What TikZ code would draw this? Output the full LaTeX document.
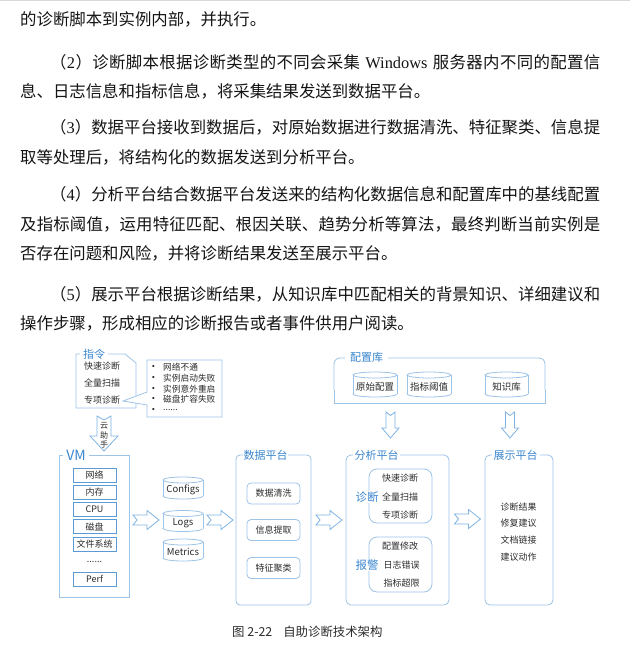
\documentclass[tikz,border=0pt]{standalone}
\usepackage{fontspec}
\setmainfont{Liberation Serif}
\newfontfamily\cjk{Noto Sans CJK SC}
\usetikzlibrary{calc}
\definecolor{bordc}{HTML}{9DC3E6}
\definecolor{ttlc}{HTML}{3A86CF}
\definecolor{inbc}{HTML}{5B9BD5}
\definecolor{txtc}{HTML}{2B2B2B}
\definecolor{arrc}{HTML}{7FB3E3}
\ExplSyntaxOn
\NewDocumentCommand\spreadcj{m}{\tl_map_inline:nn{#1}{##1\hfil}\unskip}
\ExplSyntaxOff
\newcommand\jline[2]{\makebox[#1][s]{\spreadcj{#2}}}
\newcommand\sixdots{......}
\tikzset{
 para/.style={anchor=base west, inner sep=0pt, font=\cjk\fontsize{16.4}{20}\selectfont, text=black!92},
 bline/.style={draw=bordc, line width=0.8pt},
 ttl/.style={font=\cjk\fontsize{11}{12}\selectfont, text=ttlc, inner sep=1pt},
 itm/.style={font=\cjk\fontsize{9}{10}\selectfont, text=txtc, inner sep=0pt},
 smitm/.style={font=\cjk\fontsize{8.7}{10}\selectfont, text=txtc, inner sep=0pt, anchor=west},
 bul/.style={font=\rmfamily\fontsize{9}{10}\selectfont, text=txtc, inner sep=0pt},
 vbox/.style={draw=inbc, line width=0.8pt, minimum width=43pt, minimum height=14pt, inner sep=0pt, font=\cjk\fontsize{9}{10}\selectfont, text=txtc},
 dbox/.style={draw=bordc, line width=0.8pt, rounded corners=4pt, minimum width=53pt, minimum height=21pt, inner sep=0pt, font=\cjk\fontsize{9}{10}\selectfont, text=txtc},
 barrow/.style={draw=arrc, line width=0.8pt, fill=white, line join=miter},
 cyltext/.style={font=\cjk\fontsize{9.5}{10}\selectfont, text=txtc, inner sep=0pt},
}
\newcommand\rarr[2]{%
 \draw[barrow] (#1-13,#2-5) -- ++(14,0) -- ++(0,-4.5) -- ++(12,9.5) -- ++(-12,9.5) -- ++(0,-4.5) -- ++(-14,0) -- ++(4,-5) -- cycle;}
\newcommand\darr[2]{%
 \draw[barrow] (#1-4.5,#2-13) -- ++(4.5,3.5) -- ++(4.5,-3.5) -- ++(0,16) -- ++(4,0) -- ++(-8.5,10) -- ++(-8.5,-10) -- ++(4,0) -- cycle;}
% name, cx, cy, w, h, text
\newcommand\cyl[6]{%
 \filldraw[fill=white, draw=bordc, line width=0.8pt] (#2,#3+#5/2-3) ellipse [x radius=#4/2, y radius=3];
 \fill[white] (#2-#4/2,#3-#5/2+3) rectangle (#2+#4/2,#3+#5/2-3);
 \draw[bline] (#2-#4/2,#3-#5/2+3) -- (#2-#4/2,#3+#5/2-3) (#2+#4/2,#3-#5/2+3) -- (#2+#4/2,#3+#5/2-3);
 \filldraw[fill=white, draw=bordc, line width=0.8pt] (#2,#3-#5/2+3) ellipse [x radius=#4/2, y radius=3];
 \node[cyltext] (#1) at (#2,#3+2) {#6};}
\begin{document}
\begin{tikzpicture}[x=1pt,y=-1pt]
\useasboundingbox (0,0) rectangle (630,658);
\fill[white] (0,0) rectangle (630,658);
\draw[black!15, line width=1pt] (0,1) -- (630,1);
% ---------- paragraphs ----------
\node[para] (l1) at (20,26) {的诊断脚本到实例内部，并执行。};
\node[para] (l2) at (50,69) {\makebox[550pt][s]{\spreadcj{（{{\rmfamily 2}}）诊断脚本根据诊断类型的不同会采集}\hfil\hspace{5pt}{\rmfamily Windows}\hspace{5pt}\hfil\spreadcj{服务器内不同的配置信}}};
\node[para] (l3) at (20,98) {息、日志信息和指标信息，将采集结果发送到数据平台。};
\node[para] (l4) at (50,134) {\jline{550pt}{（{{\rmfamily 3}}）数据平台接收到数据后，对原始数据进行数据清洗、特征聚类、信息提}};
\node[para] (l5) at (20,163) {取等处理后，将结构化的数据发送到分析平台。};
\node[para] (l6) at (50,200) {\jline{550pt}{（{{\rmfamily 4}}）分析平台结合数据平台发送来的结构化数据信息和配置库中的基线配置}};
\node[para] (l7) at (20,230) {\jline{580pt}{及指标阈值，运用特征匹配、根因关联、趋势分析等算法，最终判断当前实例是}};
\node[para] (l8) at (20,259) {否存在问题和风险，并将诊断结果发送至展示平台。};
\node[para] (l9) at (50,300) {\jline{550pt}{（{{\rmfamily 5}}）展示平台根据诊断结果，从知识库中匹配相关的背景知识、详细建议和}};
\node[para] (l10) at (20,329) {操作步骤，形成相应的诊断报告或者事件供用户阅读。};
% ---------- 指令 ----------
\draw[bline] (80,354) -- (76,354) -- (76,408) -- (136,408) -- (136,363) -- (125,354) -- (108,354);
\node[ttl] (zl) at (94,354) {指令};
\node[itm] (k1) at (102,366) {快速诊断};
\node[itm] (k2) at (102,383) {全量扫描};
\node[itm] (k3) at (102,400) {专项诊断};
\filldraw[fill=white, draw=bordc, line width=0.8pt, line join=miter] (147,392) -- (147,360) -- (222,360) -- (222,417) -- (147,417) -- (147,405) -- (123,401) -- cycle;
\foreach \yy/\tt [count=\i] in {367/网络不通, 378/实例启动失败, 389/实例意外重启, 399.5/磁盘扩容失败, 410/\sixdots}{
  \node[bul] (b\i) at (153.5,\yy) {•};
  \node[smitm] (c\i) at (163,\yy) {\tt};
}
% 云助手
\draw[barrow] (97,416) -- (104,420) -- (111,416) -- (111,436) -- (118,436) -- (104,451) -- (90,436) -- (97,436) -- cycle;
\node[itm, font=\cjk\fontsize{8}{9}\selectfont] (y1) at (104,426) {云};
\node[itm, font=\cjk\fontsize{8}{9}\selectfont] (y2) at (104,435) {助};
\node[itm, font=\cjk\fontsize{8}{9}\selectfont] (y3) at (104,444) {手};
% ---------- VM ----------
\draw[bline] (63,455) -- (59,455) -- (59,597) -- (129,597) -- (129,455) -- (89,455);
\node[ttl, font=\cjk\fontsize{14}{15}\selectfont] (vm) at (76,455) {VM};
\node[vbox] (v1) at (94.5,475) {网络};
\node[vbox] (v2) at (94.5,492) {内存};
\node[vbox] (v3) at (94.5,509) {CPU};
\node[vbox] (v4) at (94.5,526.5) {磁盘};
\node[vbox] (v5) at (94.5,544) {文件系统};
\node[itm] (v6) at (94.5,562) {\sixdots};
\node[vbox] (v7) at (94.5,579) {Perf};
\rarr{146}{520}
% ---------- data cylinders ----------
\cyl{cf}{183}{488}{40}{22}{Configs}
\cyl{lg}{183}{521}{40}{21}{Logs}
\cyl{mt}{183}{550}{40}{22}{Metrics}
\rarr{220}{520}
% ---------- 数据平台 ----------
\draw[bline, rounded corners=4pt] (243,455) -- (236,455) -- (236,605) -- (311,605) -- (311,455) -- (288,455);
\node[ttl] (sj) at (265.5,455) {数据平台};
\node[dbox] (d1) at (273.5,493.5) {数据清洗};
\node[dbox] (d2) at (273.5,530) {信息提取};
\node[dbox] (d3) at (273.5,568) {特征聚类};
\rarr{329}{520}
% ---------- 配置库 ----------
\draw[bline, rounded corners=6pt] (345,358) -- (334,358) -- (334,390);
\draw[bline, rounded corners=6pt] (545,390) -- (545,358) -- (388,358);
\draw[bline] (334,390) -- (334,403) -- (545,403) -- (545,390);
\node[ttl] (pz) at (366.5,357) {配置库};
\cyl{ys}{375}{384.5}{44}{25}{原始配置}
\cyl{zb}{429}{384.5}{44}{25}{指标阈值}
\cyl{zs}{506.5}{384.5}{43}{25}{知识库}
\darr{390.5}{425}
\darr{510}{425}
% ---------- 分析平台 ----------
\draw[bline, rounded corners=5pt] (353,455) -- (346,455) -- (346,605) -- (449,605) -- (449,455) -- (400,455);
\node[ttl] (fx) at (376.5,455) {分析平台};
\draw[bline, rounded corners=8pt] (369,469) rectangle (432,523);
\draw[bline, rounded corners=8pt] (369,537) rectangle (432,592);
\node[ttl, fill=white, inner sep=0.5pt, font=\cjk\fontsize{11.5}{12}\selectfont] (zd) at (367,497) {诊断};
\node[ttl, fill=white, inner sep=0.5pt, font=\cjk\fontsize{11.5}{12}\selectfont] (bj) at (367,565) {报警};
\node[itm] (f1) at (400,478) {快速诊断};
\node[itm] (f2) at (400,497) {全量扫描};
\node[itm] (f3) at (400,515.5) {专项诊断};
\node[itm] (f4) at (400,546) {配置修改};
\node[itm] (f5) at (401.5,565) {日志错误};
\node[itm] (f6) at (401.5,583.5) {指标超限};
\rarr{467.5}{519}
% ---------- 展示平台 ----------
\draw[bline, rounded corners=5pt] (492,455) -- (485,455) -- (485,605) -- (553,605) -- (553,455) -- (540,455);
\node[ttl] (zs2) at (515.5,455) {展示平台};
\node[itm] (s1) at (518.5,507) {诊断结果};
\node[itm] (s2) at (518.5,523.5) {修复建议};
\node[itm] (s3) at (518.5,540) {文档链接};
\node[itm] (s4) at (518.5,557) {建议动作};
% ---------- caption ----------
\node[anchor=west, inner sep=0pt, font=\cjk\fontsize{12.4}{14}\selectfont, text=txtc] (cap) at (232,632) {图 2-22\hspace{11pt}自助诊断技术架构};
\end{tikzpicture}
\end{document}
